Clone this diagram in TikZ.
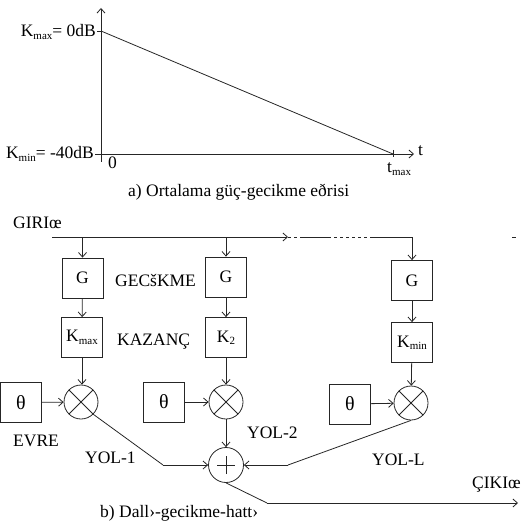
\documentclass[tikz,border=0pt]{standalone}
\usepackage{fontspec}
\setmainfont{Liberation Serif}
\usetikzlibrary{arrows.meta}
\newcommand\lowsub[1]{\raisebox{-0.3ex}{\fontsize{11}{11}\selectfont #1}}
\begin{document}
\begin{tikzpicture}[x=1pt,y=-1pt,
  font=\fontsize{17.5}{20}\selectfont,
  ln/.style={line width=0.8pt,draw=black!85},
  arr/.style={ln,-{Straight Barb[length=4.5pt,width=8pt]}},
  txt/.style={inner sep=0pt,anchor=base west},
  blk/.style={ln,rectangle,minimum width=41pt,minimum height=40pt,inner sep=0pt},
  mult/.style={ln,circle,minimum size=34pt,inner sep=0pt,
    path picture={\draw[ln] (path picture bounding box.south west) -- (path picture bounding box.north east)
      (path picture bounding box.north west) -- (path picture bounding box.south east);}},
  adder/.style={ln,circle,minimum size=35pt,inner sep=0pt,
    path picture={\draw[ln] ([xshift=-9pt]path picture bounding box.center) -- ([xshift=9pt]path picture bounding box.center)
      ([yshift=-9pt]path picture bounding box.center) -- ([yshift=9pt]path picture bounding box.center);}}]
\useasboundingbox (0,0) rectangle (526,521);
% ---------- part a ----------
\coordinate (yb) at (101,162);
\coordinate (yt) at (101,8);
\coordinate (xl) at (95,154);
\coordinate (xr) at (414,154);
\coordinate (kmx) at (101,31);
\coordinate (kmxl) at (97,31);
\coordinate (tmx) at (393,154);
\coordinate (tmxt) at (393,150);
\coordinate (tmxb) at (393,157);
\draw[arr] (yb) -- (yt);
\draw[arr] (xl) -- (xr);
\draw[ln] (kmxl) -- (kmx);
\draw[ln] (tmxt) -- (tmxb);
\draw[ln] (kmx) -- (tmx);
\node[txt,anchor=base east] (kmaxlab) at (96,37) {K\lowsub{max}= 0dB};
\node[txt,anchor=base east] (kminlab) at (94,159) {K\lowsub{min}= -40dB};
\node[txt] (zero) at (108,168) {0};
\node[txt] (tlab) at (418,156) {t};
\node[txt] (tmaxlab) at (387,173) {t\lowsub{max}};
\node[txt] (capa) at (128,196) {a) Ortalama güç-gecikme eðrisi};
% ---------- part b ----------
\node[txt] (giris) at (13,228) {GIRIœ};
\coordinate (bus0) at (52,237);
\coordinate (bus1) at (288,237);
\coordinate (bus2) at (303,237);
\coordinate (bus3) at (328,237);
\coordinate (bus4) at (370,237);
\coordinate (bus5) at (412,237);
\coordinate (dsh0) at (512,237);
\coordinate (dsh1) at (516,237);
\draw[arr] (bus0) -- (bus1);
\draw[ln,dash pattern=on 3pt off 3pt] (bus1) -- (bus2);
\draw[ln] (bus2) -- (bus3);
\draw[ln,dash pattern=on 3pt off 3pt] (bus3) -- (bus4);
\draw[ln] (bus4) -- (bus5);
\draw[ln] (dsh0) -- (dsh1);
% delay boxes
\node[blk,draw] (g1) at (82.5,278) {G};
\node[blk,draw] (g2) at (226,277) {G};
\node[blk,draw] (g3) at (412,280.5) {G};
\draw[arr] (g1 |- bus0) -- (g1);
\draw[arr] (g2 |- bus0) -- (g2);
\draw[arr] (bus5) -- (g3);
\node[txt] (gecikme) at (115,286) {GECšKME};
% gain boxes
\node[blk,draw] (k1) at (82,337.5) {K\lowsub{max}};
\node[blk,draw] (k2) at (226,337.5) {K\lowsub{2}};
\node[blk,draw] (k3) at (412,342.5) {K\lowsub{min}};
\draw[arr] (g1) -- (k1);
\draw[arr] (g2) -- (k2);
\draw[arr] (g3) -- (k3);
\node[txt] (kazanc) at (117,345) {KAZANÇ};
% multipliers
\node[mult,draw] (m1) at (81,402) {};
\node[mult,draw] (m2) at (226,402) {};
\node[mult,draw] (m3) at (411,403) {};
\draw[arr] (k1) -- (k1 |- m1.north);
\draw[arr] (k2) -- (m2);
\draw[arr] (k3) -- (m3);
% phase boxes
\node[blk,draw,font=\fontsize{20}{22}\selectfont] (th1) at (21,402.5) {θ};
\node[blk,draw,font=\fontsize{20}{22}\selectfont] (th2) at (164,402) {θ};
\node[blk,draw,font=\fontsize{20}{22}\selectfont] (th3) at (350,404) {θ};
\draw[arr] (th1) -- (m1);
\draw[arr] (th2) -- (m2);
\draw[arr] (th3) -- (m3);
\node[txt] (evre) at (13,446) {EVRE};
% adder
\node[adder,draw] (sum) at (226,465) {};
\draw[arr] (m2) -- (sum);
\coordinate (p1) at (163,465);
\coordinate (pl) at (288,465);
\draw[ln] (m1.south east) -- (p1);
\draw[arr] (p1) -- (sum);
\draw[ln] (m3.south) -- (pl);
\draw[arr] (pl) -- (sum);
\node[txt] (yol1) at (85,463) {YOL-1};
\node[txt] (yol2) at (247,438) {YOL-2};
\node[txt] (yolL) at (372,465) {YOL-L};
% output
\coordinate (o1) at (267,503);
\coordinate (o2) at (518,503);
\draw[ln] (sum.south) -- (o1);
\draw[arr] (o1) -- (o2);
\node[txt] (cikis) at (472,488) {ÇIKIœ};
\node[txt] (capb) at (100,517) {b) Dall›-gecikme-hatt›};
\end{tikzpicture}
\end{document}
